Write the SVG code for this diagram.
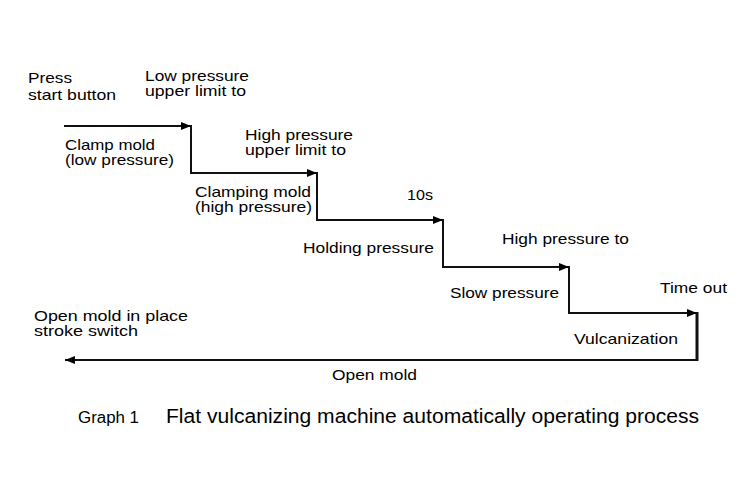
<svg xmlns="http://www.w3.org/2000/svg" width="750" height="500" viewBox="0 0 750 500">
<defs>
<marker id="ah" viewBox="0 0 10 10" refX="10" refY="5" markerWidth="5" markerHeight="5" orient="auto" markerUnits="strokeWidth">
<path d="M0,1 L10,5 L0,9 z" fill="#000"/>
</marker>
</defs>
<style>
text{font-family:"Liberation Sans",Arial,sans-serif;font-size:14.5px;fill:#000}
.ln{stroke:#111;stroke-width:2;fill:none}
.cap{font-size:20px}
.g1{font-size:16px}
</style>
<rect width="750" height="500" fill="#fff"/>
<g id="connectors">
<path class="ln" d="M64,126 H191" marker-end="url(#ah)"/>
<path class="ln" d="M191,125 V173 H317" marker-end="url(#ah)"/>
<path class="ln" d="M317,172 V220 H443" marker-end="url(#ah)"/>
<path class="ln" d="M443,219 V267 H569" marker-end="url(#ah)"/>
<path class="ln" d="M569,266 V313 H697" marker-end="url(#ah)"/>
<path class="ln" d="M697,312 V361" style="stroke-width:3"/>
<path class="ln" d="M698,360 H65" marker-end="url(#ah)"/>
</g>
<g id="press"><text x="28" y="83" textLength="44" lengthAdjust="spacingAndGlyphs">Press</text><text x="28" y="100" textLength="88" lengthAdjust="spacingAndGlyphs">start button</text></g>
<g id="low-limit"><text x="145" y="81" textLength="104" lengthAdjust="spacingAndGlyphs">Low pressure</text><text x="145" y="96" textLength="101" lengthAdjust="spacingAndGlyphs">upper limit to</text></g>
<g id="clamp-low"><text x="65" y="149.5" textLength="90" lengthAdjust="spacingAndGlyphs">Clamp mold</text><text x="65" y="164.5" textLength="109" lengthAdjust="spacingAndGlyphs">(low pressure)</text></g>
<g id="high-limit"><text x="245" y="140" textLength="108" lengthAdjust="spacingAndGlyphs">High pressure</text><text x="245" y="155" textLength="101" lengthAdjust="spacingAndGlyphs">upper limit to</text></g>
<g id="clamp-high"><text x="195" y="196.5" textLength="116" lengthAdjust="spacingAndGlyphs">Clamping mold</text><text x="195" y="211.5" textLength="117" lengthAdjust="spacingAndGlyphs">(high pressure)</text></g>
<g id="t10"><text x="407" y="200" textLength="26" lengthAdjust="spacingAndGlyphs">10s</text></g>
<g id="holding"><text x="303" y="253" textLength="131" lengthAdjust="spacingAndGlyphs">Holding pressure</text></g>
<g id="high-to"><text x="502" y="244" textLength="127" lengthAdjust="spacingAndGlyphs">High pressure to</text></g>
<g id="slow"><text x="450" y="298" textLength="109" lengthAdjust="spacingAndGlyphs">Slow pressure</text></g>
<g id="timeout"><text x="660" y="293" textLength="67" lengthAdjust="spacingAndGlyphs">Time out</text></g>
<g id="vulc"><text x="574" y="344" textLength="104" lengthAdjust="spacingAndGlyphs">Vulcanization</text></g>
<g id="open-switch"><text x="34" y="320.5" textLength="154" lengthAdjust="spacingAndGlyphs">Open mold in place</text><text x="34" y="335.5" textLength="104" lengthAdjust="spacingAndGlyphs">stroke switch</text></g>
<g id="open-mold"><text x="332" y="380" textLength="85" lengthAdjust="spacingAndGlyphs">Open mold</text></g>
<g id="caption"><text class="g1" x="78" y="423" textLength="61" lengthAdjust="spacingAndGlyphs">Graph 1</text><text class="cap" x="166" y="423" textLength="533" lengthAdjust="spacingAndGlyphs">Flat vulcanizing machine automatically operating process</text></g>
</svg>
